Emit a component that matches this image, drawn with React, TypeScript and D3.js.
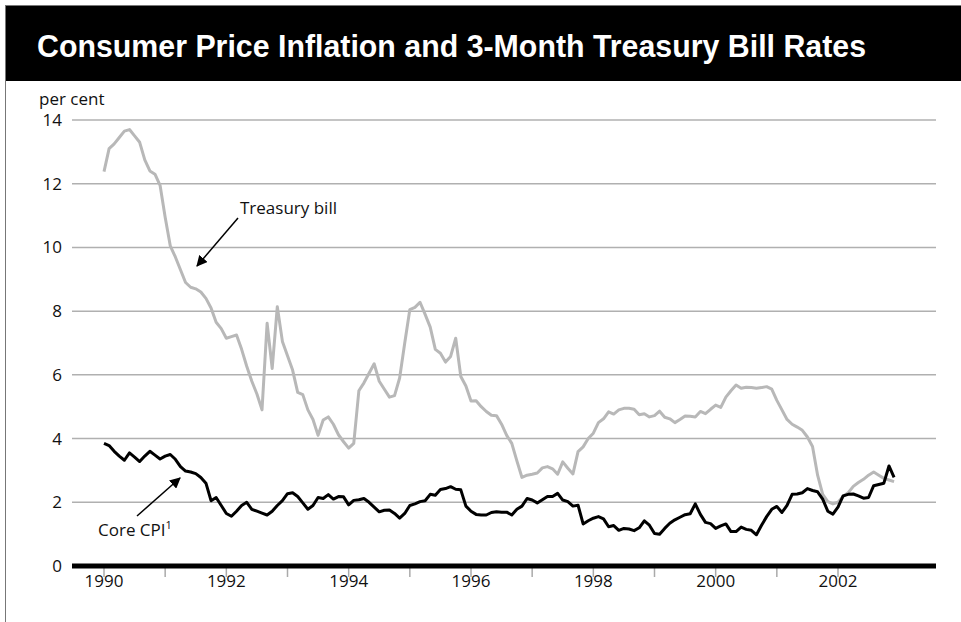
import React from "react";
import * as d3 from "d3";

// monthly, Jan 1990 - Dec 2002 (per cent)
const tbill: number[] = [
  12.38, 13.1, 13.25, 13.45, 13.65, 13.7, 13.5, 13.3, 12.75, 12.4, 12.3, 11.95,
  10.95, 10.05, 9.7, 9.3, 8.9, 8.75, 8.7, 8.6, 8.4, 8.1, 7.65, 7.45,
  7.15, 7.2, 7.25, 6.8, 6.27, 5.8, 5.4, 4.9, 7.62, 6.2, 8.14, 7.05,
  6.6, 6.15, 5.45, 5.38, 4.9, 4.6, 4.1, 4.58, 4.68, 4.45, 4.12, 3.9,
  3.7, 3.85, 5.5, 5.75, 6.05, 6.35, 5.8, 5.55, 5.3, 5.35, 5.9, 7.0,
  8.05, 8.12, 8.28, 7.9, 7.5, 6.8, 6.68, 6.4, 6.58, 7.15, 5.95, 5.65,
  5.18, 5.19, 5.0, 4.85, 4.73, 4.72, 4.45, 4.1, 3.85, 3.3, 2.78, 2.85,
  2.88, 2.92, 3.08, 3.12, 3.05, 2.88, 3.27, 3.07, 2.89, 3.59, 3.74, 4.0,
  4.17, 4.5, 4.62, 4.84, 4.77, 4.9, 4.95, 4.95, 4.92, 4.75, 4.78, 4.68,
  4.72, 4.86, 4.67, 4.62, 4.5, 4.6, 4.71, 4.7, 4.68, 4.85, 4.78, 4.92,
  5.05, 4.98, 5.3, 5.5, 5.68, 5.58, 5.61, 5.6, 5.58, 5.6, 5.63, 5.55,
  5.2, 4.9, 4.6, 4.45, 4.36, 4.26, 4.05, 3.75, 2.85, 2.25, 2.02, 1.95,
  2.0, 2.18, 2.3, 2.5, 2.62, 2.72, 2.85, 2.95, 2.85, 2.75, 2.7, 2.65,
];

const coreCpi: number[] = [
  3.85, 3.78, 3.6, 3.45, 3.32, 3.55, 3.42, 3.28, 3.45, 3.6, 3.48, 3.36,
  3.45, 3.5, 3.35, 3.12, 2.98, 2.95, 2.9, 2.78, 2.6, 2.05, 2.15, 1.9,
  1.65, 1.56, 1.72, 1.9, 2.0, 1.78, 1.72, 1.66, 1.6, 1.72, 1.9, 2.05,
  2.27, 2.3, 2.18, 1.98, 1.78, 1.9, 2.15, 2.12, 2.24, 2.1, 2.18, 2.17,
  1.92, 2.06, 2.08, 2.12, 2.0, 1.85, 1.7, 1.75, 1.76, 1.65, 1.5, 1.65,
  1.9, 1.95, 2.02, 2.05, 2.25, 2.22, 2.4, 2.43, 2.49, 2.41, 2.39, 1.88,
  1.72, 1.62, 1.6, 1.6, 1.68, 1.7, 1.69, 1.69, 1.6, 1.78, 1.88, 2.12,
  2.07, 1.98, 2.08, 2.18, 2.18, 2.28, 2.07, 2.02, 1.88, 1.91, 1.32, 1.42,
  1.5, 1.55, 1.48, 1.23, 1.27, 1.12, 1.18, 1.16, 1.11, 1.2, 1.42, 1.28,
  1.02, 1.0, 1.18, 1.34, 1.45, 1.53, 1.61, 1.64, 1.95, 1.62, 1.37, 1.33,
  1.18, 1.26, 1.32, 1.08, 1.08, 1.22, 1.15, 1.12, 0.98, 1.28, 1.55, 1.78,
  1.87, 1.68, 1.9, 2.25, 2.26, 2.3, 2.43, 2.37, 2.33, 2.1, 1.72, 1.63,
  1.85, 2.2, 2.25, 2.26, 2.2, 2.13, 2.15, 2.52, 2.56, 2.6, 3.14, 2.78,
];

const startYear = 1990;
const yTicks = [0, 2, 4, 6, 8, 10, 12, 14];
const xTickYears = [1990, 1991, 1992, 1993, 1994, 1995, 1996, 1997, 1998, 1999, 2000, 2001, 2002];
const xLabelYears = [1990, 1992, 1994, 1996, 1998, 2000, 2002];

const W = 961;
const H = 622;
const plotLeft = 72;
const plotRight = 936;
const font = "'Open Sans', 'Liberation Sans', sans-serif";

const x = d3.scaleLinear().domain([1990, 2002]).range([104, 838]);
const y = d3.scaleLinear().domain([0, 14]).range([566, 120]);

const line = d3
  .line<number>()
  .x((_, i) => x(startYear + i / 12))
  .y((d) => y(d));

export default function App() {
  return (
    <svg
      width={W}
      height={H}
      style={{ position: "absolute", left: 0, top: 0, background: "#fff" }}
    >
      <defs>
        <marker id="arr" viewBox="0 0 10 10" refX="9" refY="5" markerWidth="11" markerHeight="11" markerUnits="userSpaceOnUse" orient="auto">
          <path d="M0,0 L10,5 L0,10 z" fill="#000" />
        </marker>
      </defs>

      {/* frame + title band */}
      <line x1={5.5} y1={5} x2={5.5} y2={H} stroke="#777" strokeWidth={1} />
      <line x1={5} y1={5.5} x2={W} y2={5.5} stroke="#777" strokeWidth={1} />
      <rect x={6} y={6} width={W - 6} height={75} fill="#000" />
      <text
        x={37}
        y={57}
        fill="#fff"
        fontFamily="'Liberation Sans Narrow', 'Liberation Sans', Arial, sans-serif"
        fontWeight="bold"
        fontSize={32}
        textLength={829}
        lengthAdjust="spacingAndGlyphs"
      >
        Consumer Price Inflation and 3-Month Treasury Bill Rates
      </text>

      {/* grid */}
      {yTicks.filter((t) => t > 0).map((t) => (
        <line key={t} x1={plotLeft} x2={plotRight} y1={y(t)} y2={y(t)} stroke="#b0b0b0" strokeWidth={1.5} />
      ))}
      {yTicks.map((t) => (
        <text key={"l" + t} x={62} y={y(t) + 6} textAnchor="end" fontFamily={font} fontSize={17} fill="#111">
          {t}
        </text>
      ))}
      <text x={39} y={105} fontFamily={font} fontSize={17} fill="#111">per cent</text>

      {/* x axis */}
      {xTickYears.map((yr) => (
        <line key={yr} x1={x(yr)} x2={x(yr)} y1={568} y2={577} stroke="#aaa" strokeWidth={1.5} />
      ))}
      {xLabelYears.map((yr) => (
        <text key={"x" + yr} x={x(yr)} y={587} textAnchor="middle" fontFamily={font} fontSize={17} fill="#111">
          {yr}
        </text>
      ))}

      {/* series */}
      <path d={line(tbill) ?? ""} fill="none" stroke="#b8b8b8" strokeWidth={3} strokeLinejoin="round" />
      <path d={line(coreCpi) ?? ""} fill="none" stroke="#000" strokeWidth={3} strokeLinejoin="round" />

      <line x1={plotLeft} x2={plotRight} y1={y(0)} y2={y(0)} stroke="#000" strokeWidth={5} />

      {/* annotations */}
      <text x={240} y={214} fontFamily={font} fontSize={17} fill="#111">Treasury bill</text>
      <line x1={238} y1={218} x2={197} y2={266} stroke="#000" strokeWidth={1.5} markerEnd="url(#arr)" />
      <text x={98} y={536} fontFamily={font} fontSize={17} fill="#111">
        Core CPI<tspan dy={-7} fontSize={11}>1</tspan>
      </text>
      <line x1={137} y1={516} x2={180} y2={478} stroke="#000" strokeWidth={1.5} markerEnd="url(#arr)" />
    </svg>
  );
}
